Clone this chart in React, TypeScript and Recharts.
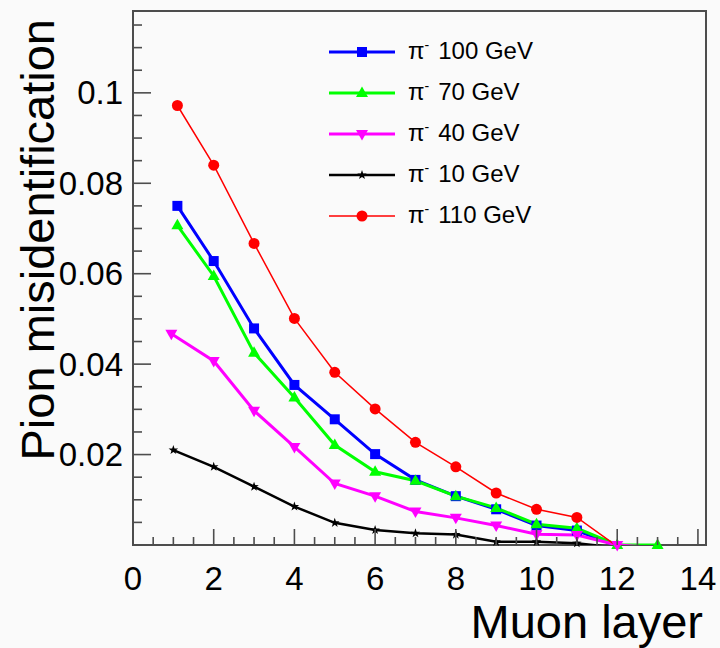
import React from 'react'
import { ComposedChart, Line, Scatter, XAxis, YAxis, ReferenceArea, Legend } from 'recharts'

// misidentification vs muon layer
const layers100 = [1.1, 2, 3, 4, 5, 6, 7, 8, 9, 10, 11, 12]
const rate100 = [0.075, 0.0628, 0.0479, 0.0354, 0.0278, 0.0201, 0.0144, 0.0108, 0.0079, 0.0043, 0.0032, -0.0002]

const layers70 = [1.1, 2, 3, 4, 5, 6, 7, 8, 9, 10, 11, 12, 13]
const rate70 = [0.0707, 0.0595, 0.0425, 0.0326, 0.0221, 0.0162, 0.0142, 0.0108, 0.0082, 0.0046, 0.0037, 0, 0]

const layers40 = [0.95, 2, 3, 4, 5, 6, 7, 8, 9, 10, 11, 12, 13]
const rate40 = [0.0467, 0.0407, 0.0297, 0.0217, 0.0136, 0.0108, 0.0074, 0.006, 0.0043, 0.0024, 0.0022, 0, -0.0006]

const layers10 = [1, 2, 3, 4, 5, 6, 7, 8, 9, 10, 11, 12]
const rate10 = [0.021, 0.0173, 0.0129, 0.0085, 0.0049, 0.0033, 0.0026, 0.0023, 0.0007, 0.0007, 0.0004, -0.0006]

const layers110 = [1.1, 2, 3, 4, 5, 6, 7, 8, 9, 10, 11, 12]
const rate110 = [0.0972, 0.084, 0.0667, 0.0501, 0.0382, 0.0301, 0.0227, 0.0173, 0.0115, 0.0079, 0.0061, -0.0003]

const seriesNames = ['100 GeV', '70 GeV', '40 GeV', '10 GeV', '110 GeV']

const xTicks = [0, 0.5, 1, 1.5, 2, 2.5, 3, 3.5, 4, 4.5, 5, 5.5, 6, 6.5, 7, 7.5, 8, 8.5, 9, 9.5, 10, 10.5, 11, 11.5, 12, 12.5, 13, 13.5, 14]
const xMajor = [0, 2, 4, 6, 8, 10, 12, 14]
const xLabels = ['0', '2', '4', '6', '8', '10', '12', '14']

const yTicks = [0, 0.005, 0.01, 0.015, 0.02, 0.025, 0.03, 0.035, 0.04, 0.045, 0.05, 0.055, 0.06, 0.065, 0.07, 0.075, 0.08, 0.085, 0.09, 0.095, 0.1, 0.105, 0.11, 0.115]
const yMajor = [0.02, 0.04, 0.06, 0.08, 0.1]
const yLabels = ['0.02', '0.04', '0.06', '0.08', '0.1']

const X_MAX = 14.2
const Y_MAX = 0.1181
const FONT = '"Liberation Sans", Arial, Helvetica, sans-serif'
const FRAME = '#4d4d4d'
const BG = '#fafafa'

type Kind = 'square' | 'up' | 'down' | 'star' | 'circle'

const series: { key: string; name: string; xs: number[]; ys: number[]; color: string; width: number; marker: Kind }[] = [
  { key: 'p100', name: seriesNames[0], xs: layers100, ys: rate100, color: '#0000ff', width: 3, marker: 'square' },
  { key: 'p70', name: seriesNames[1], xs: layers70, ys: rate70, color: '#00ff00', width: 3, marker: 'up' },
  { key: 'p40', name: seriesNames[2], xs: layers40, ys: rate40, color: '#ff00ff', width: 3, marker: 'down' },
  { key: 'p10', name: seriesNames[3], xs: layers10, ys: rate10, color: '#000000', width: 2.5, marker: 'star' },
  { key: 'p110', name: seriesNames[4], xs: layers110, ys: rate110, color: '#ff0000', width: 1.5, marker: 'circle' },
]

function Marker({ kind, cx, cy, color }: { kind: Kind; cx: number; cy: number; color: string }) {
  if (kind === 'square') return <rect x={cx - 5} y={cy - 5} width={10} height={10} fill={color} />
  if (kind === 'up') return <polygon points={`${cx},${cy - 6.5} ${cx - 6},${cy + 4} ${cx + 6},${cy + 4}`} fill={color} />
  if (kind === 'down') return <polygon points={`${cx},${cy + 6.5} ${cx - 6},${cy - 4} ${cx + 6},${cy - 4}`} fill={color} />
  if (kind === 'star') {
    const pts: string[] = []
    for (let i = 0; i < 10; i++) {
      const r = i % 2 === 0 ? 5 : 2
      const a = -Math.PI / 2 + (i * Math.PI) / 5
      pts.push(`${cx + r * Math.cos(a)},${cy + r * Math.sin(a)}`)
    }
    return <polygon points={pts.join(' ')} fill={color} />
  }
  return <circle cx={cx} cy={cy} r={5.5} fill={color} />
}

function XTick(props: any) {
  const { x, y, payload } = props
  const i = xMajor.indexOf(payload.value)
  return (
    <g>
      <line x1={x} x2={x} y1={y} y2={y - (i >= 0 ? 16 : 8)} stroke={FRAME} strokeWidth={1.6} />
      {i >= 0 && (
        <text x={x} y={y + 45} textAnchor="middle" fontSize={33} fontFamily={FONT} fill="#000">
          {xLabels[i]}
        </text>
      )}
    </g>
  )
}

function YTick(props: any) {
  const { x, y, payload } = props
  const i = yMajor.findIndex((v) => Math.abs(v - payload.value) < 1e-9)
  return (
    <g>
      <line x1={x} x2={x + (i >= 0 ? 18 : 9)} y1={y} y2={y} stroke={FRAME} strokeWidth={1.6} />
      {i >= 0 && (
        <text x={x - 10} y={y + 11.5} textAnchor="end" fontSize={33} fontFamily={FONT} fill="#000">
          {yLabels[i]}
        </text>
      )}
    </g>
  )
}

function LegendBox() {
  return (
    <div style={{ fontFamily: FONT, fontSize: 24, color: '#000' }}>
      {series.map((s) => (
        <div key={s.key} style={{ height: 41, display: 'flex', alignItems: 'center' }}>
          <svg width={66} height={20} style={{ display: 'block' }}>
            <line x1={0} x2={66} y1={10} y2={10} stroke={s.color} strokeWidth={s.width} />
            <Marker kind={s.marker} cx={33} cy={10} color={s.color} />
          </svg>
          <span style={{ marginLeft: 13, whiteSpace: 'nowrap', lineHeight: '24px' }}>
            π
            <span style={{ fontSize: 14, position: 'relative', top: -9 }}>-</span>
            <span style={{ marginLeft: 9 }}>{s.name}</span>
          </span>
        </div>
      ))}
    </div>
  )
}

export default function App() {
  return (
    <div style={{ position: 'absolute', left: 0, top: 0, width: 720, height: 648, background: BG }}>
      <ComposedChart width={720} height={648} margin={{ top: 11, right: 14, bottom: 0, left: 0 }}>
        <XAxis
          type="number"
          dataKey="x"
          domain={[0, X_MAX]}
          ticks={xTicks}
          interval={0}
          tick={XTick}
          tickSize={0}
          tickMargin={0}
          axisLine={false}
          tickLine={false}
          height={103}
          label={(p: any) => (
            <text
              x={p.viewBox.x + p.viewBox.width - 3}
              y={p.viewBox.y + 93}
              textAnchor="end"
              fontSize={47}
              fontFamily={FONT}
              fill="#000"
            >
              Muon layer
            </text>
          )}
        />
        <YAxis
          type="number"
          dataKey="y"
          domain={[0, Y_MAX]}
          allowDataOverflow
          ticks={yTicks}
          interval={0}
          tick={YTick}
          tickSize={0}
          tickMargin={0}
          axisLine={false}
          tickLine={false}
          width={133}
          label={(p: any) => (
            <text
              x={p.viewBox.x + 54}
              y={p.viewBox.y + 8}
              transform={`rotate(-90, ${p.viewBox.x + 54}, ${p.viewBox.y + 8})`}
              textAnchor="end"
              fontSize={47}
              fontFamily={FONT}
              fill="#000"
            >
              Pion misidentification
            </text>
          )}
        />
        <YAxis yAxisId="m" type="number" dataKey="y" domain={[0, Y_MAX]} hide />
        <ReferenceArea x1={0} x2={X_MAX} y1={0} y2={Y_MAX} fill="none" stroke={FRAME} strokeWidth={2} />
        {series.map((s) => {
          const pts = s.xs.map((x, i) => ({ x, y: s.ys[i] }))
          return [
            <Line
              key={s.key + '-line'}
              data={pts}
              dataKey="y"
              type="linear"
              stroke={s.color}
              strokeWidth={s.width}
              dot={false}
              activeDot={false}
              isAnimationActive={false}
            />,
            <Scatter
              key={s.key + '-mark'}
              yAxisId="m"
              data={pts.filter((p) => p.y >= 0)}
              dataKey="y"
              shape={(p: any) => <Marker kind={s.marker} cx={p.cx} cy={p.cy} color={s.color} />}
              isAnimationActive={false}
            />,
          ]
        })}
        <Legend
          layout="horizontal"
          verticalAlign="middle"
          align="center"
          content={() => <LegendBox />}
          wrapperStyle={{ left: 329, top: 31.5, width: 240 }}
        />
      </ComposedChart>
    </div>
  )
}
